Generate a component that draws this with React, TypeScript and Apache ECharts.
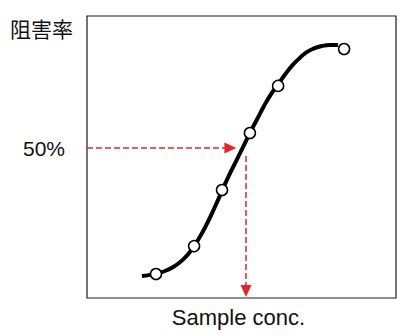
import React, { useEffect, useRef } from "react";
import * as echarts from "echarts";

// Fitted sigmoid curve (sample concentration vs inhibition %)
const curveX = [18.3, 21, 23.3, 26, 29, 32, 34.7, 37.3, 40, 42.7, 45, 47.3, 49.7, 52, 54.3, 56.7, 59, 61.3, 63.7, 66, 68.3, 70.7, 73, 75.7, 78.3, 81, 83.7];
const curveY = [7.3, 7.7, 8.2, 9, 10.5, 12.8, 15.8, 19.8, 24.8, 30.5, 35.7, 40.8, 45.6, 50.3, 55, 59.6, 64, 67.9, 71.2, 74.5, 77.4, 79.8, 81.8, 83.2, 84, 84.3, 84.3];

// Measured points
const pointX = [23, 35.7, 45, 54.3, 63.7, 85.7];
const pointY = [8, 17.3, 36, 55, 70.7, 83];

// 50% guide lines
const halfY = 50;
const ic50X = 53;
const hArrowEndX = 47.8;
const vStartY = 47.3;
const vArrowEndY = 2.3;

const yLabel = "阻害率";
const xLabel = "Sample conc.";
const halfLabel = "50%";

export default function App() {
  const ref = useRef<HTMLDivElement>(null);
  useEffect(() => {
    if (!ref.current) return;
    const chart = echarts.init(ref.current, null, { renderer: "svg" });
    const red = "#e3262c";
    chart.setOption({
      animation: false,
      backgroundColor: "#ffffff",
      grid: {
        left: 87,
        top: 16,
        width: 309,
        height: 282,
        show: true,
        borderColor: "#1a1a1a",
        borderWidth: 1.2,
        backgroundColor: "transparent",
      },
      xAxis: {
        type: "value",
        min: 0,
        max: 103,
        axisLine: { show: false },
        axisTick: { show: false },
        splitLine: { show: false },
        axisLabel: { show: false },
        name: xLabel,
        nameLocation: "middle",
        nameGap: 8,
        nameTextStyle: {
          fontFamily: "Liberation Sans, Arial, sans-serif",
          fontSize: 22,
          color: "#111",
          verticalAlign: "top",
          padding: [0, 6, 0, 0],
        },
      },
      yAxis: {
        type: "value",
        min: 0,
        max: 94,
        interval: 50,
        axisLine: { show: false },
        axisTick: { show: false },
        splitLine: { show: false },
        axisLabel: {
          margin: 22,
          fontFamily: "Liberation Sans, Arial, sans-serif",
          fontSize: 21,
          color: "#111",
          showMaxLabel: false,
          formatter: (v: number) => (v === halfY ? halfLabel : ""),
        },
      },
      graphic: [
        {
          type: "text",
          left: 10,
          top: 17,
          style: {
            text: yLabel,
            fontFamily: "Noto Sans CJK JP, sans-serif",
            fontSize: 21,
            fill: "#111",
          },
        },
      ],
      series: [
        {
          type: "line",
          data: curveX.map((x, i) => [x, curveY[i]]),
          smooth: 0.5,
          showSymbol: false,
          symbol: "none",
          lineStyle: { color: "#000", width: 4 },
          z: 3,
          silent: true,
          markLine: {
            silent: true,
            animation: false,
            symbol: ["none", "triangle"],
            symbolSize: [11, 12],
            label: { show: false },
            lineStyle: { color: red, width: 1.5, type: [6, 3] },
            data: [
              [
                { coord: [0, halfY] },
                { coord: [hArrowEndX, halfY] },
              ],
              [
                { coord: [ic50X, vStartY] },
                { coord: [ic50X, vArrowEndY] },
              ],
            ],
          },
        },
        {
          type: "scatter",
          data: pointX.map((x, i) => [x, pointY[i]]),
          symbol: "circle",
          symbolSize: 11,
          itemStyle: { color: "#fff", borderColor: "#000", borderWidth: 1.5, opacity: 1 },
          z: 5,
          silent: true,
        },
      ],
    });
    return () => chart.dispose();
  }, []);
  return (
    <div
      ref={ref}
      style={{ position: "fixed", left: 0, top: 0, width: 400, height: 336, background: "#fff" }}
    />
  );
}
